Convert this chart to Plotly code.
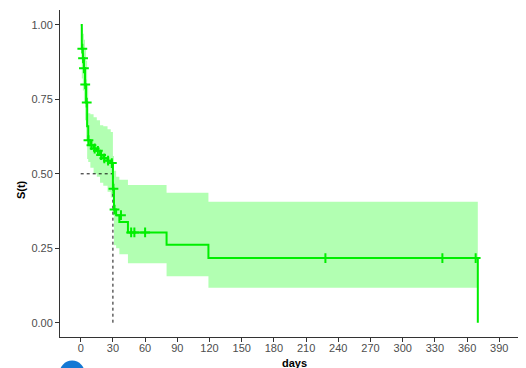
import plotly.graph_objects as go

# Kaplan-Meier step curve (time in days, survival after each step)
km_time = [0, 1, 2, 3, 4, 5, 6, 7, 9, 12, 15, 18, 21, 25, 28, 30, 31, 33, 36, 44, 80, 119, 370]
km_surv = [1.0, 0.92, 0.888, 0.854, 0.80, 0.739, 0.66, 0.613, 0.596, 0.585, 0.577, 0.563,
           0.552, 0.544, 0.536, 0.45, 0.38, 0.361, 0.338, 0.303, 0.262, 0.217, 0.0]

# Confidence band per step
ci_upper = [1.0, 0.99, 0.97, 0.95, 0.92, 0.88, 0.80, 0.703, 0.70, 0.69, 0.68, 0.663,
            0.66, 0.65, 0.64, 0.56, 0.51, 0.49, 0.48, 0.462, 0.436, 0.406, 0.406]
ci_lower = [1.0, 0.82, 0.78, 0.74, 0.68, 0.61, 0.55, 0.54, 0.52, 0.50, 0.49, 0.47,
            0.46, 0.44, 0.42, 0.36, 0.26, 0.25, 0.23, 0.20, 0.156, 0.117, 0.117]

# Censored observations
censor_time = [1.5, 2.2, 3, 4.2, 5.6, 7.2, 10, 13, 16, 19, 22, 25.5, 29, 30.5, 31.5, 37.5, 47, 50, 60, 228, 337, 368]
censor_surv = [0.92, 0.888, 0.854, 0.80, 0.739, 0.613, 0.596, 0.585, 0.577, 0.563, 0.552, 0.544,
               0.536, 0.45, 0.38, 0.361, 0.303, 0.303, 0.303, 0.217, 0.217, 0.217]

median_time = 30
median_surv = 0.5

x_ticks = [0, 30, 60, 90, 120, 150, 180, 210, 240, 270, 300, 330, 360, 390]
y_ticks = [0.0, 0.25, 0.5, 0.75, 1.0]

GREEN = "#00EE00"
BAND = "rgba(0,255,0,0.3)"

fig = go.Figure()

fig.add_trace(go.Scatter(x=km_time, y=ci_upper, mode="lines", line=dict(width=0, shape="hv"),
                         hoverinfo="skip", showlegend=False))
fig.add_trace(go.Scatter(x=km_time, y=ci_lower, mode="lines", line=dict(width=0, shape="hv"),
                         fill="tonexty", fillcolor=BAND, hoverinfo="skip", showlegend=False))

fig.add_trace(go.Scatter(x=[0, median_time], y=[median_surv, median_surv], mode="lines",
                         line=dict(color="#111111", width=1, dash="3px,3px"), showlegend=False))
fig.add_trace(go.Scatter(x=[median_time, median_time], y=[0, median_surv], mode="lines",
                         line=dict(color="#111111", width=1, dash="3px,3px"), showlegend=False))

fig.add_trace(go.Scatter(x=km_time, y=km_surv, mode="lines",
                         line=dict(color=GREEN, width=2, shape="hv"), showlegend=False))
fig.add_trace(go.Scatter(x=censor_time, y=censor_surv, mode="markers",
                         marker=dict(symbol="cross-thin", size=7, line=dict(color=GREEN, width=2)),
                         showlegend=False))

fig.update_layout(
    width=518, height=360,
    margin=dict(l=52, r=0, t=2, b=31),
    plot_bgcolor="white", paper_bgcolor="white",
    font=dict(family="Liberation Sans, Arial, sans-serif", size=11, color="#4D4D4D"),
    xaxis=dict(range=[-19.3, 414.9], tickvals=x_ticks, ticks="outside", ticklen=4,
               ticklabelstandoff=-3,
               tickcolor="#333333", showline=True, linecolor="#333333", linewidth=1,
               showgrid=False, zeroline=False),
    yaxis=dict(range=[-0.048, 1.05], tickvals=y_ticks, tickformat=".2f", ticks="outside",
               ticklen=4, tickcolor="#333333", showline=True, linecolor="#333333", linewidth=1,
               showgrid=False, zeroline=False),
    annotations=[
        dict(text="<b>days</b>", xref="paper", yref="paper", x=0.503, y=-0.08,
             showarrow=False, font=dict(size=11, color="black"), yanchor="middle"),
        dict(text="<b>S(t)</b>", xref="paper", yref="paper", x=-0.084, y=0.452,
             showarrow=False, textangle=-90, font=dict(size=11, color="black"),
             xanchor="center"),
    ],
    shapes=[
        dict(type="circle", xref="paper", yref="paper", x0=-0.002, x1=0.054, y0=-0.16, y1=-0.072,
             fillcolor="#1478D4", line=dict(width=0), layer="above"),
    ],
)

fig.write_html("out.html")
